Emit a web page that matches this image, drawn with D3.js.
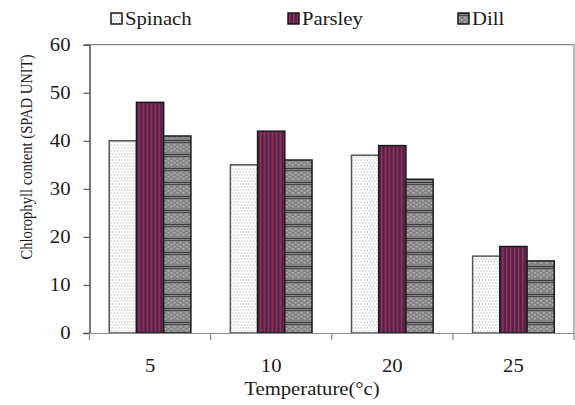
<!DOCTYPE html>
<html>
<head>
<meta charset="utf-8">
<script src="https://cdn.jsdelivr.net/npm/d3@7"></script>
<style>
  html, body { margin: 0; padding: 0; background: #fff; }
  svg { display: block; }
  svg text { font-family: "Liberation Serif", "Times New Roman", serif !important; fill: #1a1a1a; }
</style>
</head>
<body>
<svg id="chart" width="575" height="405"></svg>
<script>
// ---- data ----
const categories = ["5", "10", "20", "25"];
const seriesNames = ["Spinach", "Parsley", "Dill"];
const spinach = [40, 35, 37, 16];
const parsley = [48, 42, 39, 18];
const dill = [41, 36, 32, 15];
const yTicks = [0, 10, 20, 30, 40, 50, 60];
const xTitle = "Temperature(°c)";
const yTitle = "Chlorophyll content (SPAD UNIT)";

const seriesValues = [spinach, parsley, dill];
const svg = d3.select("#chart");
const SX = 1.15; // horizontal stretch of the source image text
const FONT = "Liberation Serif";

// ---- patterns ----
const defs = svg.append("defs");
const p1 = defs.append("pattern").attr("id", "pat-spinach").attr("patternUnits", "userSpaceOnUse")
  .attr("width", 6).attr("height", 6);
p1.append("rect").attr("width", 6).attr("height", 6).attr("fill", "#ffffff");
[[0.5,0.5],[3.5,0.5],[2,3.5],[5,3.5]].forEach(([cx, cy]) =>
  p1.append("rect").attr("x", cx).attr("y", cy).attr("width", 1).attr("height", 1).attr("fill", "#9a9a9a"));
const p2 = defs.append("pattern").attr("id", "pat-parsley").attr("patternUnits", "userSpaceOnUse")
  .attr("width", 4).attr("height", 4);
p2.append("rect").attr("width", 4).attr("height", 4).attr("fill", "#4e2440");
p2.append("rect").attr("x", 1).attr("width", 1.5).attr("height", 4).attr("fill", "#a0306a");
const p3 = defs.append("pattern").attr("id", "pat-dill").attr("patternUnits", "userSpaceOnUse")
  .attr("width", 6).attr("height", 14);
p3.append("rect").attr("width", 6).attr("height", 14).attr("fill", "#858585");
[[0,4],[3,6],[0,8],[3,10]].forEach(([x, y]) =>
  p3.append("rect").attr("x", x).attr("y", y).attr("width", 2).attr("height", 1.5).attr("fill", "#b0b0b0"));
p3.append("rect").attr("y", 0).attr("width", 6).attr("height", 1).attr("fill", "#3a3a3a");
p3.append("rect").attr("y", 2).attr("width", 6).attr("height", 0.8).attr("fill", "#3a3a3a");
const fills = ["url(#pat-spinach)", "url(#pat-parsley)", "url(#pat-dill)"];
const strokes = ["#555555", "#1a1a1a", "#1a1a1a"];

// ---- scales ----
const plot = { left: 89.5, right: 574, top: 44.7, bottom: 333 };
const x = d3.scaleBand().domain(categories).range([plot.left, plot.right]).paddingInner(0).paddingOuter(0);
const xs = d3.scaleBand().domain(seriesNames).range([0, x.bandwidth()]).paddingInner(0).paddingOuter(0.725);
const y = d3.scaleLinear().domain([0, 60]).range([plot.bottom, plot.top]);

// ---- frame ----
svg.append("path")
  .attr("d", `M${plot.left},${plot.top}H${plot.right}V${plot.bottom}`)
  .attr("fill", "none").attr("stroke", "#8a8a8a").attr("stroke-width", 1.2);

// ---- bars ----
const groups = svg.append("g").selectAll("g").data(categories).join("g")
  .attr("transform", d => `translate(${x(d)},0)`);
groups.selectAll("rect")
  .data((d, i) => seriesNames.map((s, j) => ({ s, j, v: seriesValues[j][i] })))
  .join("rect")
  .attr("x", d => xs(d.s))
  .attr("y", d => y(d.v))
  .attr("width", xs.bandwidth())
  .attr("height", d => y(0) - y(d.v))
  .attr("fill", d => fills[d.j])
  .attr("stroke", d => strokes[d.j])
  .attr("stroke-width", 1.5);

// ---- y axis ----
const yAxis = svg.append("g").attr("transform", `translate(${plot.left},0)`)
  .call(d3.axisLeft(y).tickValues(yTicks).tickSize(6).tickPadding(13))
  .attr("font-family", FONT).attr("font-size", 18);
yAxis.select(".domain").attr("stroke", "#555").attr("stroke-width", 1.6);
yAxis.selectAll(".tick line").attr("stroke", "#555").attr("stroke-width", 1.2);
yAxis.selectAll(".tick text").each(function () {
  const t = d3.select(this);
  const xo = +t.attr("x");
  t.attr("x", 0).attr("transform", `translate(${xo},0) scale(${SX},1)`);
}).attr("font-family", FONT).attr("font-size", 18).attr("fill", "#1a1a1a");

// ---- x axis ----
const xAxis = svg.append("g").attr("transform", `translate(0,${plot.bottom})`)
  .call(d3.axisBottom(x).tickSize(0).tickPadding(26))
  .attr("font-family", FONT).attr("font-size", 18);
xAxis.select(".domain").attr("stroke", "#8a8a8a").attr("stroke-width", 1.2);
xAxis.selectAll(".tick text").attr("transform", `scale(${SX},1)`)
  .attr("font-family", FONT).attr("font-size", 18).attr("fill", "#1a1a1a");
const bounds = categories.map(c => x(c)).concat([x(categories[categories.length - 1]) + x.bandwidth()]);
xAxis.selectAll(".btick").data(bounds).join("line").attr("class", "btick")
  .attr("x1", d => d).attr("x2", d => d).attr("y1", 0).attr("y2", 7)
  .attr("stroke", "#8a8a8a").attr("stroke-width", 1.2);

// ---- titles ----
svg.append("text").attr("transform", `translate(312,395) scale(${SX},1)`)
  .attr("text-anchor", "middle").attr("font-family", FONT).attr("font-size", 18).text(xTitle);
svg.append("text").attr("transform", "translate(32,157) rotate(-90)")
  .attr("text-anchor", "middle").attr("font-family", FONT).attr("font-size", 16)
  .attr("textLength", 205).attr("lengthAdjust", "spacingAndGlyphs").text(yTitle);

// ---- legend ----
const legendX = [111, 288, 458];
const lg = svg.append("g").selectAll("g").data(seriesNames).join("g")
  .attr("transform", (d, i) => `translate(${legendX[i]},13)`);
lg.append("rect").attr("width", 11).attr("height", 11)
  .attr("fill", (d, i) => fills[i]).attr("stroke", "#1a1a1a").attr("stroke-width", 1.5);
lg.append("text").attr("transform", `translate(14,12) scale(${SX},1)`)
  .attr("font-family", FONT).attr("font-size", 18).text(d => d);
</script>
</body>
</html>
